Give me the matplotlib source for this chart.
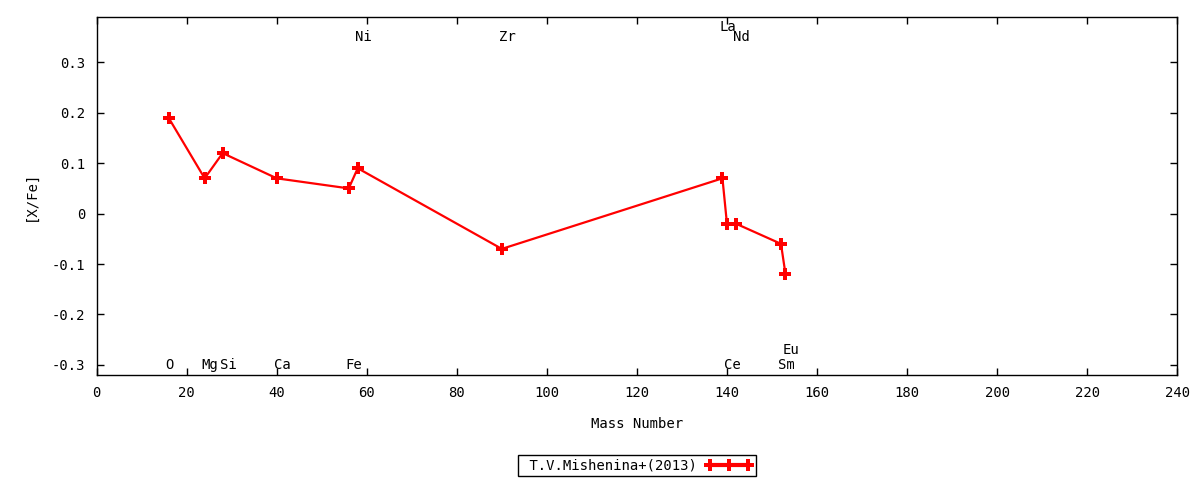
import matplotlib
matplotlib.use("Agg")
import matplotlib.pyplot as plt
from matplotlib.lines import Line2D
from matplotlib.ticker import MultipleLocator, FuncFormatter

# ── data: [X/Fe] by mass number ────────────────────────────────────────────
elements = ["O", "Mg", "Si", "Ca", "Fe", "Ni", "Zr", "La", "Ce", "Nd", "Sm", "Eu"]
mass = [16, 24, 28, 40, 56, 58, 90, 139, 140, 142, 152, 153]
xfe = [0.19, 0.07, 0.12, 0.07, 0.05, 0.09, -0.07, 0.07, -0.02, -0.02, -0.06, -0.12]
label_y = [-0.30, -0.30, -0.30, -0.30, -0.30, 0.35, 0.35, 0.37, -0.30, 0.35, -0.30, -0.27]
series_name = "T.V.Mishenina+(2013)"

plt.rcParams["font.family"] = ["DejaVu Sans Mono"]
plt.rcParams["font.size"] = 10

fig = plt.figure(figsize=(12, 4.8), dpi=100)
ax = fig.add_axes([0.0805, 0.219, 0.9005, 0.7455])

ax.plot(mass, xfe, color="red", lw=1.6, marker="P", ms=8.5, markeredgewidth=0)

for el, m, ly in zip(elements, mass, label_y):
    ax.text(m - 0.7, ly, el, ha="left", va="center", fontsize=10)

ax.set_xlim(0, 240)
ax.set_ylim(-0.32, 0.39)
ax.xaxis.set_major_locator(MultipleLocator(20))
ax.yaxis.set_major_locator(MultipleLocator(0.1))
ax.yaxis.set_major_formatter(FuncFormatter(lambda v, p: "0" if abs(v) < 1e-9 else f"{v:.1f}"))
ax.tick_params(direction="in", length=5, width=1, top=True, right=True, pad=8)
for s in ax.spines.values():
    s.set_linewidth(1)

ax.set_xlabel("Mass Number", labelpad=12)
ax.set_ylabel("[X/Fe]", labelpad=10)

# legend sample: thick line, crosses at ends and middle
proxy = Line2D([], [], color="red", lw=3, marker="P", ms=8, markeredgewidth=0)
leg = ax.legend([proxy], [" " + series_name], loc="upper center",
                bbox_to_anchor=(0.5, -0.225), markerfirst=False, numpoints=3,
                fancybox=False, framealpha=1, edgecolor="black",
                handlelength=3.4, handletextpad=0.6, borderpad=0.25,
                borderaxespad=0, fontsize=10)
leg.get_frame().set_linewidth(1)

fig.savefig("out.png", dpi=100)
